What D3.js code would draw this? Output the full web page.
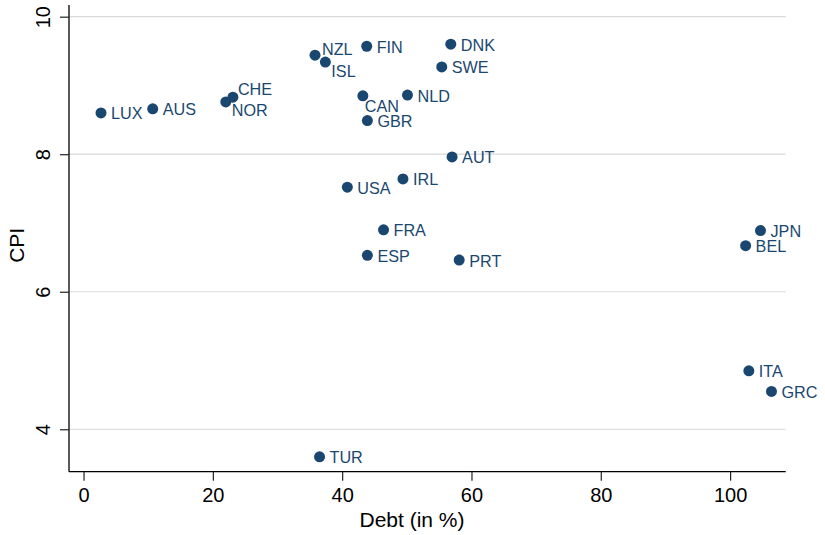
<!DOCTYPE html>
<html>
<head>
<meta charset="utf-8">
<script src="https://cdn.jsdelivr.net/npm/d3@7"></script>
<style>
  html, body { margin: 0; padding: 0; background: #fff; }
  svg { display: block; }
</style>
</head>
<body>
<svg id="chart" width="825" height="535"></svg>
<script>
// ---- data ----
const countries = ["LUX","AUS","NOR","CHE","NZL","ISL","FIN","DNK","SWE","CAN","NLD","GBR","AUT","IRL","USA","FRA","ESP","PRT","JPN","BEL","ITA","GRC","TUR"];
const debt      = [2.7, 10.7, 22.0, 23.1, 35.8, 37.4, 43.8, 56.8, 55.4, 43.2, 50.1, 43.9, 57.0, 49.4, 40.8, 46.4, 43.9, 58.1, 104.7, 102.4, 102.9, 106.4, 36.5];
const cpi       = [8.60, 8.66, 8.76, 8.83, 9.44, 9.34, 9.57, 9.60, 9.27, 8.85, 8.86, 8.49, 7.96, 7.64, 7.52, 6.90, 6.53, 6.46, 6.89, 6.67, 4.85, 4.55, 3.60];
const xTicks = [0, 20, 40, 60, 80, 100];
const yTicks = [4, 6, 8, 10];
const xTitle = "Debt (in %)";
const yTitle = "CPI";
// label placement (clock position) for crowded markers; default is 3 o'clock
const labelClock = {CHE: 1, NOR: 4, CAN: 5, NZL: 2, ISL: 4};

// ---- layout ----
const svg = d3.select("#chart");
const pL = 69, pR = 785.7, pT = 5, pB = 471.7;
const navy = "#1a476f";
const font = "'Liberation Sans', Arial, Helvetica, sans-serif";

const x = d3.scaleLinear().domain([-2.25, 108.6]).range([pL, pR]);
const y = d3.scaleLinear().domain([3.383, 10.17]).range([pB, pT]);

// gridlines
svg.append("g").selectAll("line").data(yTicks).join("line")
  .attr("x1", pL).attr("x2", pR)
  .attr("y1", d => y(d)).attr("y2", d => y(d))
  .attr("stroke", "#d9d9d9").attr("stroke-width", 1.2);

// y axis
const yAxis = svg.append("g").attr("transform", `translate(${pL},0)`)
  .call(d3.axisLeft(y).tickValues(yTicks).tickSize(9).tickSizeOuter(0).tickPadding(10).tickFormat(d3.format("d")));
yAxis.select(".domain").attr("stroke", "#000").attr("stroke-width", 1.3)
  .attr("d", `M0,${pT}V${pB}`);
yAxis.selectAll(".tick line").attr("stroke", "#222").attr("stroke-width", 1.2);
yAxis.selectAll(".tick text")
  .attr("font-family", font).attr("font-size", 20).attr("fill", "#000")
  .attr("x", 0).attr("y", 0).attr("dy", 0)
  .attr("text-anchor", "middle")
  .attr("transform", "translate(-19,0) rotate(-90)");

// x axis
const xAxis = svg.append("g").attr("transform", `translate(0,${pB})`)
  .call(d3.axisBottom(x).tickValues(xTicks).tickSize(9).tickSizeOuter(0).tickPadding(6).tickFormat(d3.format("d")));
xAxis.select(".domain").attr("stroke", "#000").attr("stroke-width", 1.3)
  .attr("d", `M${pL},0H${pR}`);
xAxis.selectAll(".tick line").attr("stroke", "#222").attr("stroke-width", 1.2);
xAxis.selectAll(".tick text")
  .attr("font-family", font).attr("font-size", 20).attr("fill", "#000")
  .attr("dy", 0).attr("y", 30);

// axis titles
svg.append("text").attr("x", 412).attr("y", 527)
  .attr("text-anchor", "middle").attr("font-family", font).attr("font-size", 21)
  .attr("fill", "#000").text(xTitle);
svg.append("text").attr("transform", `translate(24,${(pT + pB) / 2 + 7}) rotate(-90)`)
  .attr("text-anchor", "middle").attr("font-family", font).attr("font-size", 21)
  .attr("fill", "#000").text(yTitle);

// points
const data = countries.map((c, i) => ({c, x: debt[i], y: cpi[i]}));
const g = svg.append("g");
g.selectAll("circle").data(data).join("circle")
  .attr("cx", d => x(d.x)).attr("cy", d => y(d.y)).attr("r", 5.5)
  .attr("fill", navy);

const offsets = {3: [10, 6.5], 1: [5, -2], 2: [7, 0], 4: [6, 14.5], 5: [2, 16]};
g.selectAll("text").data(data).join("text")
  .attr("x", d => x(d.x) + offsets[labelClock[d.c] || 3][0])
  .attr("y", d => y(d.y) + offsets[labelClock[d.c] || 3][1])
  .attr("font-family", font).attr("font-size", 16.2).attr("fill", navy)
  .text(d => d.c);
</script>
</body>
</html>
